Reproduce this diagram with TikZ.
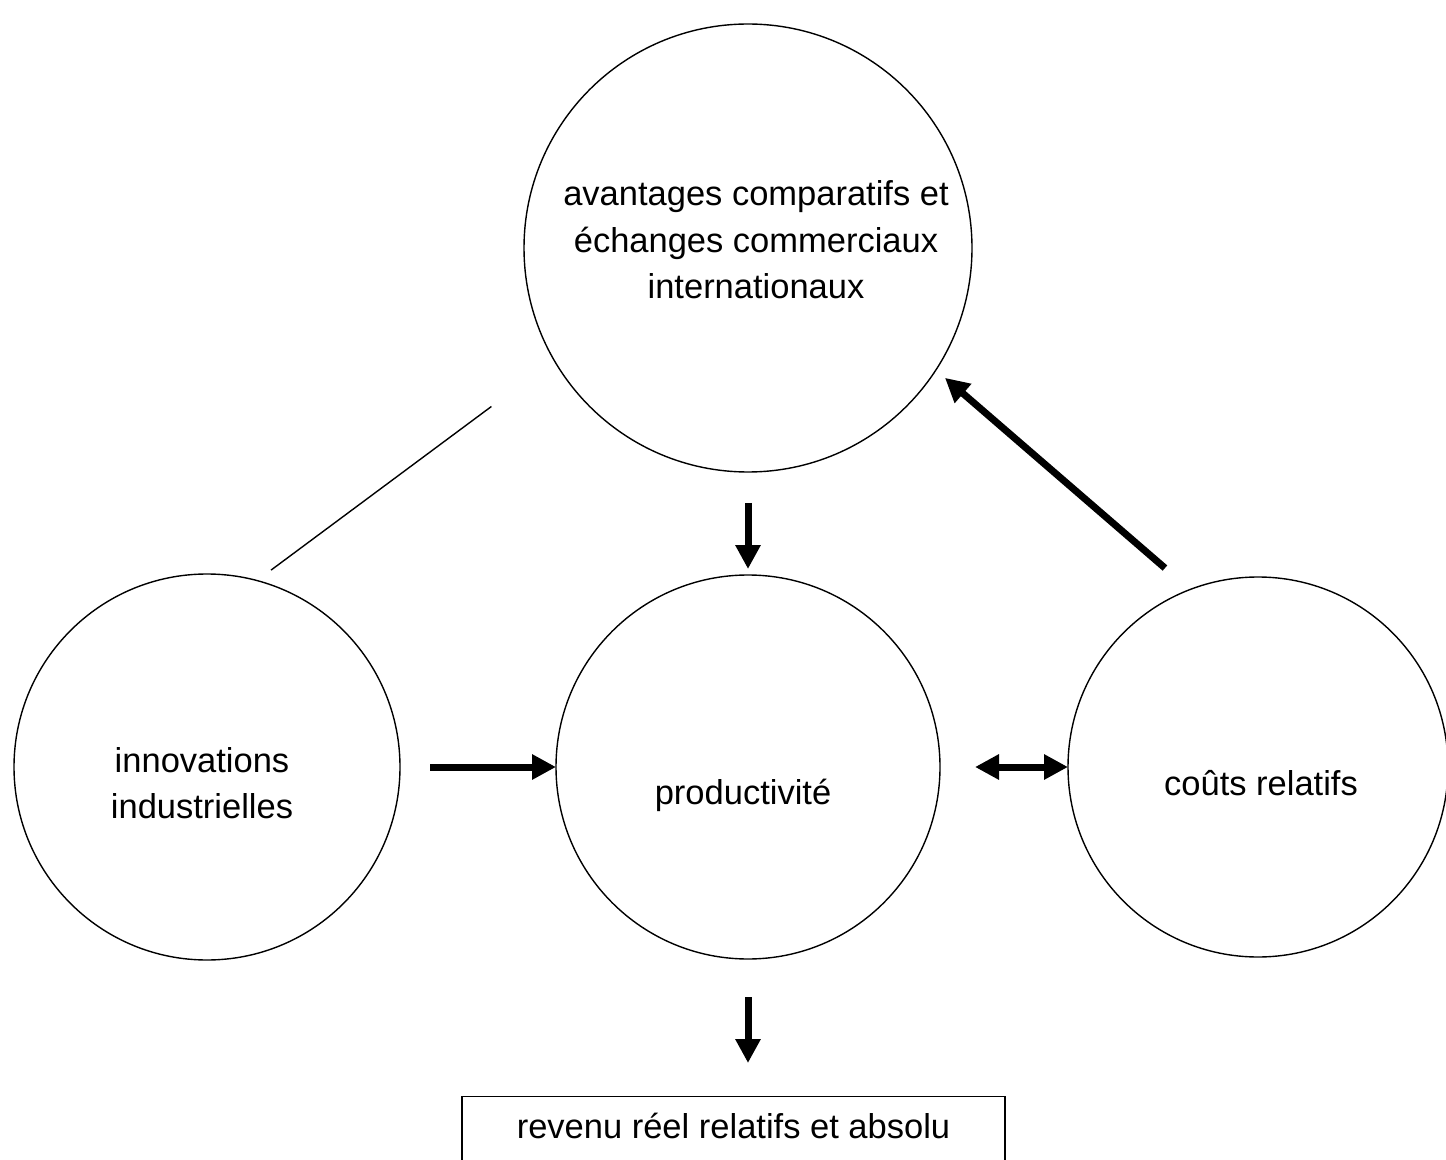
\documentclass[tikz,border=0pt]{standalone}
\usepackage{fontspec}
\setmainfont{Liberation Sans}
\usetikzlibrary{positioning,arrows.meta}
\tikzset{
  bubble/.style={circle,draw,line width=0.7pt,inner sep=0pt,outer sep=0pt},
  txt/.style={align=center,inner sep=0pt,font=\fontsize{17.25}{23.25}\selectfont},
  arr/.style={line width=3.5pt,-{Triangle[width=12pt,length=12pt]}},
  dblarr/.style={line width=3.5pt,{Triangle[width=12pt,length=12pt]}-{Triangle[width=12pt,length=12pt]}},
}
\begin{document}
\begin{tikzpicture}[x=0.5pt,y=-0.5pt,node distance=270.5pt]
                \useasboundingbox (0,0) rectangle (1446,1160);
                \path (207,767) node[bubble,minimum size=193pt] (innov) {};
                \path node[bubble,minimum size=192pt,right of=innov] (prod) {};
                \path node[bubble,minimum size=190pt,right of=prod,node distance=255pt] (couts) {};
                \path node[bubble,minimum size=224pt,above of=prod,node distance=259.5pt] (avant) {};

                \path (avant) ++(8,-8) node[txt] (avanttxt) {avantages comparatifs et\\échanges commerciaux\\internationaux};
                \path (innov) ++(-5,16) node[txt] (innovtxt) {innovations\\industrielles};
                \path (prod) ++(-5,37) node[txt,anchor=base] (prodtxt) {productivité};
                \path (couts) ++(3,28) node[txt,anchor=base] (coutstxt) {coûts relatifs};
                \path (prod) ++(-14.5,329) node[txt,draw,line width=0.7pt,anchor=north,minimum width=271.5pt,
                  minimum height=42pt,text height=8pt,text depth=8pt] (revenu) {revenu réel relatifs et absolu};

                \draw[arr,shorten <=15.5pt,shorten >=3pt] (avant.south) -- (prod.north);
                \draw[arr,shorten <=19pt,shorten >=16.5pt] (prod.south) -- (prod.south |- revenu.north);
                \draw[arr,shorten <=15pt] (innov.east) -- (prod.west);
                \draw[dblarr,shorten <=17.5pt] (prod.east) -- (couts.west);
                \draw[arr,shorten <=16.5pt,shorten >=6pt] (couts.111) -- (avant.-33);
                \draw[line width=0.7pt,shorten <=8.75pt,shorten >=39pt] (innov.75) -- (avant.210);
              \end{tikzpicture}
\end{document}
